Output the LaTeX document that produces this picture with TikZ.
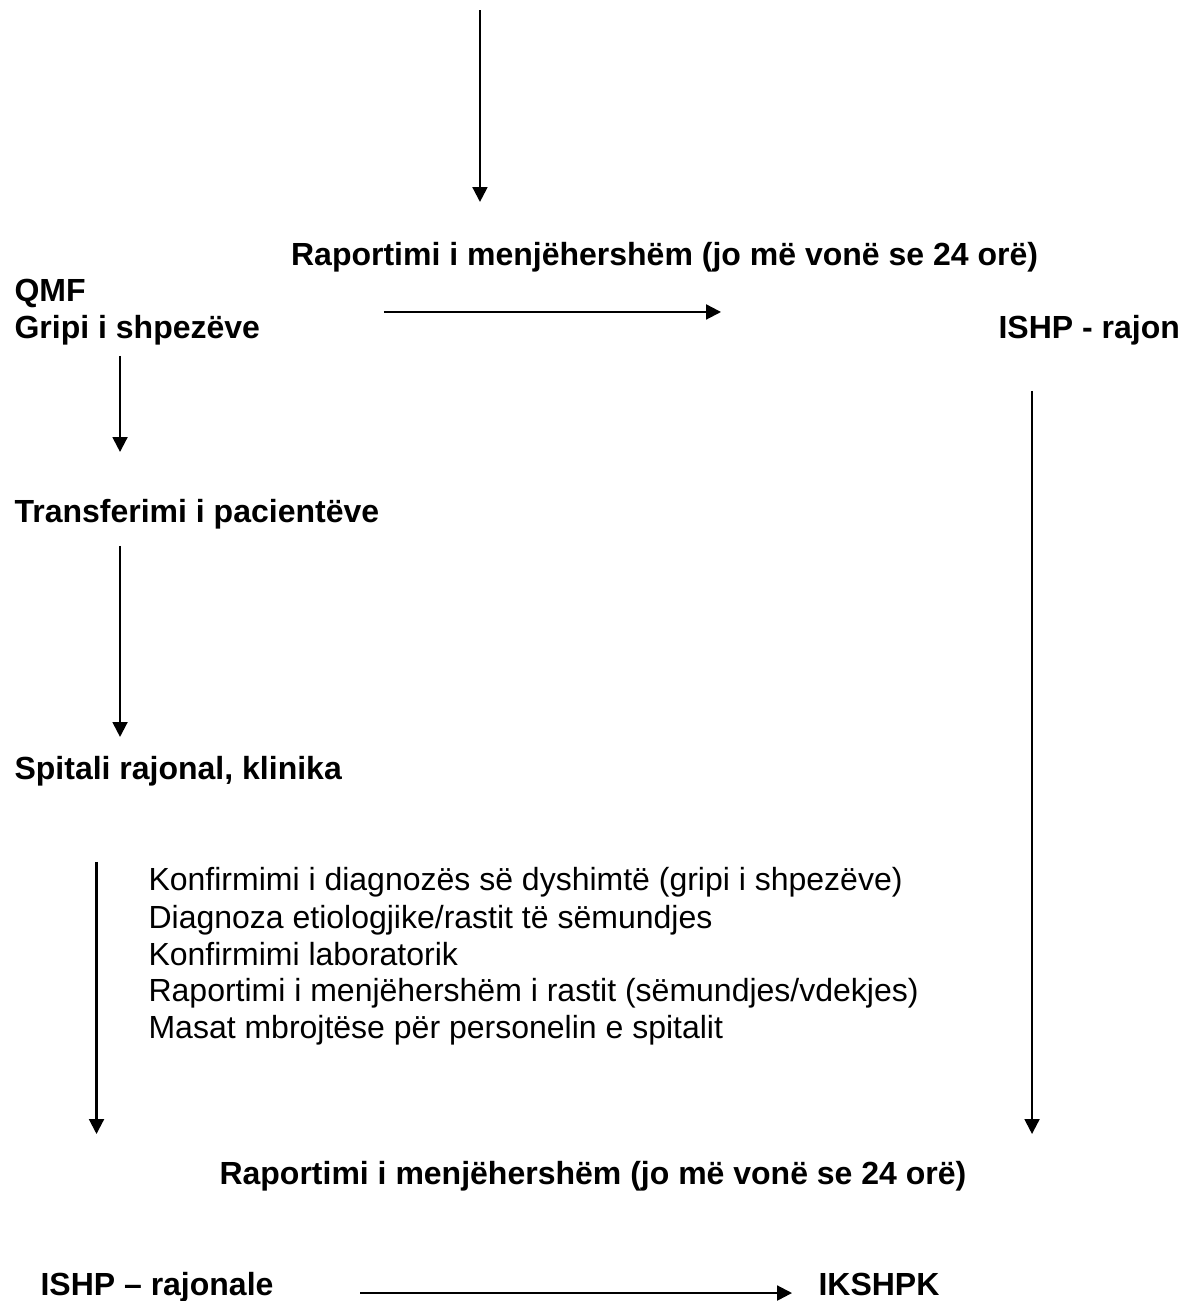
\documentclass[tikz,border=0pt]{standalone}
\usepackage{fontspec}
\setmainfont{Liberation Sans}
\usetikzlibrary{arrows.meta}

\tikzset{
    stage/.style={anchor=base west, inner sep=0pt, font=\fontsize{12pt}{13.8pt}\selectfont\bfseries},
    task/.style={anchor=base west, inner sep=0pt, font=\fontsize{12pt}{13.8pt}\selectfont},
}

\begin{document}
\begin{tikzpicture}[>={Triangle[length=5.6pt, width=5.6pt]}, scale=1.0]
        \useasboundingbox (0, 0) rectangle (15.565, 17.147);

        % First report: QMF to regional institute
        \node[stage] (rep1) at (3.83, 13.654) {Raportimi i menjëhershëm (jo më vonë se 24 orë)};
        \node[stage] (qmf) at (0.185, 13.167) {QMF};
        \node[stage] (gripi) at (0.185, 12.679) {Gripi i shpezëve};
        \node[stage] (rajon) at (13.154, 12.679) {ISHP - rajon};

        % Patient path
        \node[stage] (transfer) at (0.185, 10.254) {Transferimi i pacientëve};
        \node[stage] (spitali) at (0.185, 6.867) {Spitali rajonal, klinika};

        % What the hospital does
        \foreach \i/\y/\t in {1/5.404/{Konfirmimi i diagnozës së dyshimtë (gripi i shpezëve)},
                              2/4.916/{Diagnoza etiologjike/rastit të sëmundjes},
                              3/4.428/{Konfirmimi laboratorik},
                              4/3.941/{Raportimi i menjëhershëm i rastit (sëmundjes/vdekjes)},
                              5/3.466/{Masat mbrojtëse për personelin e spitalit}} {
            \node[task] (task\i) at (1.951, \y) {\t};
        }

        % Second report: region to IKSHPK
        \node[stage] (rep2) at (2.886, 1.529) {Raportimi i menjëhershëm (jo më vonë se 24 orë)};
        \node[stage] (regional) at (0.527, 0.079) {ISHP – rajonale};
        \node[stage] (ikshpk) at (10.781, 0.079) {IKSHPK};

        % Arrow ends
        \coordinate (topA) at (6.326, 17.015);
        \coordinate (topB) at (6.326, 14.485);
        \coordinate (sendA) at (5.061, 13.035);
        \coordinate (sendB) at (9.503, 13.035);
        \coordinate (moveA) at (1.582, 12.455);
        \coordinate (moveB) at (1.582, 11.190);
        \coordinate (admitA) at (1.582, 9.951);
        \coordinate (admitB) at (1.582, 7.434);
        \coordinate (hospA) at (1.272, 5.786);
        \coordinate (hospB) at (1.272, 2.201);
        \coordinate (regA) at (13.602, 11.994);
        \coordinate (regB) at (13.602, 2.201);
        \coordinate (lastA) at (4.745, 0.105);
        \coordinate (lastB) at (10.439, 0.105);

        \draw[->, thick] (topA) -- (topB);
        \draw[->, thick] (sendA) -- (sendB);
        \draw[->, thick] (moveA) -- (moveB);
        \draw[->, thick] (admitA) -- (admitB);
        \draw[->, thick] (hospA) -- (hospB);
        \draw[->, thick] (regA) -- (regB);
        \draw[->, thick] (lastA) -- (lastB);
    \end{tikzpicture}
\end{document}
